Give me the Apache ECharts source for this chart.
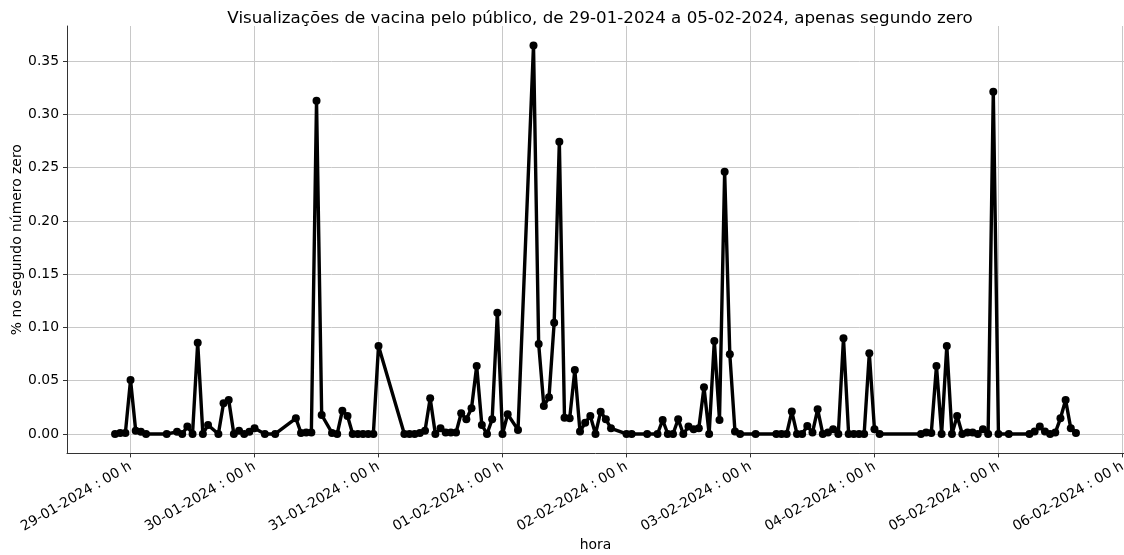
<!DOCTYPE html>
<html>
<head>
<meta charset="utf-8">
<script src="https://cdn.jsdelivr.net/npm/echarts@6/dist/echarts.min.js"></script>
<style>
  html, body { margin: 0; padding: 0; background: #fff; }
  #chart { width: 1124px; height: 555px; }
</style>
</head>
<body>
<div id="chart"></div>
<script>
// horas contadas a partir de 29-01-2024 00 h
const horas = [
  -3, -2, -1, 0, 1, 2, 3, 7, 9, 10, 11, 12, 13, 14, 15, 17, 18, 19, 20, 21, 22, 23, 24, 26, 28,
  32, 33, 34, 35, 36, 37, 39, 40, 41, 42, 43, 44, 45, 46, 47, 48,
  53, 54, 55, 56, 57, 58, 59, 60, 61, 62, 63, 64, 65, 66, 67, 68, 69, 70, 71, 72, 73, 75,
  78, 79, 80, 81, 82, 83, 84, 85, 86, 87, 88, 89, 90, 91, 92, 93, 96, 97, 100,
  102, 103, 104, 105, 106, 107, 108, 109, 110, 111, 112, 113, 114, 115, 116, 117, 118, 121,
  125, 126, 127, 128, 129, 130, 131, 132, 133, 134, 135, 136, 137, 138, 139, 140, 141, 142, 143, 144, 145,
  153, 154, 155, 156, 157, 158, 159, 160, 161, 162, 163, 164, 165, 166, 167, 168, 170,
  174, 175, 176, 177, 178, 179, 180, 181, 182, 183
];

const valores = [
  0, 0.001, 0.001, 0.0507, 0.003, 0.002, 0, 0, 0.002, 0, 0.007, 0, 0.0857, 0, 0.0084, 0, 0.0288, 0.032, 0, 0.003, 0, 0.002, 0.0053, 0, 0,
  0.0147, 0.001, 0.0013, 0.0013, 0.3128, 0.0178, 0.001, 0, 0.0219, 0.0169, 0, 0, 0, 0, 0, 0.0826,
  0, 0, 0, 0.001, 0.003, 0.0335, 0, 0.0053, 0.0013, 0.0013, 0.0013, 0.0194, 0.0138, 0.0241, 0.0638, 0.0084, 0, 0.0138, 0.1138, 0, 0.0185, 0.0038,
  0.3647, 0.0845, 0.0263, 0.0344, 0.1045, 0.2743, 0.0153, 0.0147, 0.06, 0.0022, 0.0106, 0.0169, 0, 0.0209, 0.0138, 0.0053, 0, 0, 0,
  0, 0.0131, 0, 0, 0.0138, 0, 0.0069, 0.0044, 0.0053, 0.0438, 0, 0.0873, 0.0131, 0.2462, 0.0748, 0.0022, 0, 0,
  0, 0, 0, 0.021, 0, 0, 0.0075, 0.0013, 0.0231, 0, 0.0013, 0.0044, 0, 0.0898, 0, 0, 0, 0, 0.0757, 0.0044, 0,
  0, 0.0013, 0.001, 0.0638, 0, 0.0826, 0, 0.0169, 0, 0.0013, 0.0013, 0, 0.0044, 0, 0.3212, 0, 0,
  0, 0.0022, 0.0069, 0.0022, 0, 0.0013, 0.0147, 0.0319, 0.0053, 0.001
];

const inicio = Date.UTC(2024, 0, 29, 0, 0);
const fonte = "DejaVu Sans";

function dois(n) {
  return String(n).padStart(2, "0");
}

function rotuloHora(h) {
  if (Math.abs(h % 24) > 1e-6) return "";
  const d = new Date(inicio + h * 3600 * 1000);
  return `${dois(d.getUTCDate())}-${dois(d.getUTCMonth() + 1)}-${d.getUTCFullYear()} : ${dois(d.getUTCHours())} h`;
}

function rotuloValor(v) {
  const k = v / 0.05;
  if (Math.abs(k - Math.round(k)) > 1e-6) return "";
  return v.toFixed(2);
}

const myChart = echarts.init(document.getElementById("chart"));
option = {
  animation: false,
  backgroundColor: "#fff",
  textStyle: { fontFamily: fonte },
  title: {
    text: "Visualizações de vacina pelo público, de 29-01-2024 a 05-02-2024, apenas segundo zero",
    left: 595,
    top: 5,
    textAlign: "center",
    textStyle: {
      fontFamily: fonte,
      fontSize: 16.7,
      fontWeight: "normal",
      color: "#000"
    }
  },
  grid: {
    left: 67,
    top: 26,
    width: 1057,
    height: 427.4,
    containLabel: false,
    outerBoundsMode: "none"
  },
  xAxis: {
    type: "value",
    min: -12.3,
    max: 192.3,
    splitNumber: 8,
    minInterval: 24,
    maxInterval: 24,
    name: "hora",
    nameLocation: "middle",
    nameGap: 85,
    nameMoveOverlap: false,
    nameTextStyle: { fontFamily: fonte, fontSize: 13.9, color: "#000" },
    axisLine: { show: true, onZero: false, lineStyle: { color: "#333", width: 1 } },
    axisTick: { show: true, length: 4, lineStyle: { color: "#333" } },
    axisLabel: {
      rotate: 30,
      margin: 12,
      fontFamily: fonte,
      fontSize: 13.9,
      color: "#000",
      showMinLabel: false,
      showMaxLabel: false,
      formatter: rotuloHora
    },
    splitLine: {
      show: true,
      showMinLine: false,
      showMaxLine: false,
      lineStyle: { color: "#c8c8c8", width: 1 }
    }
  },
  yAxis: {
    type: "value",
    min: -0.01824,
    max: 0.38294,
    splitNumber: 8,
    minInterval: 0.05,
    maxInterval: 0.05,
    name: "% no segundo número zero",
    nameLocation: "middle",
    nameGap: 43,
    nameMoveOverlap: false,
    nameTextStyle: { fontFamily: fonte, fontSize: 13.9, color: "#000" },
    axisLine: { show: true, onZero: false, lineStyle: { color: "#333", width: 1 } },
    axisTick: { show: true, length: 4, lineStyle: { color: "#333" } },
    axisLabel: {
      margin: 8,
      fontFamily: fonte,
      fontSize: 13.9,
      color: "#000",
      showMinLabel: false,
      showMaxLabel: false,
      formatter: rotuloValor
    },
    splitLine: {
      show: true,
      showMinLine: false,
      showMaxLine: false,
      lineStyle: { color: "#c8c8c8", width: 1 }
    }
  },
  series: [
    {
      type: "line",
      data: horas.map((h, i) => [h, valores[i]]),
      symbol: "circle",
      symbolSize: 8,
      showAllSymbol: true,
      lineStyle: { color: "#000", width: 3.4 },
      itemStyle: { color: "#000" },
      clip: false
    }
  ]
};
myChart.setOption(option);
</script>
</body>
</html>
